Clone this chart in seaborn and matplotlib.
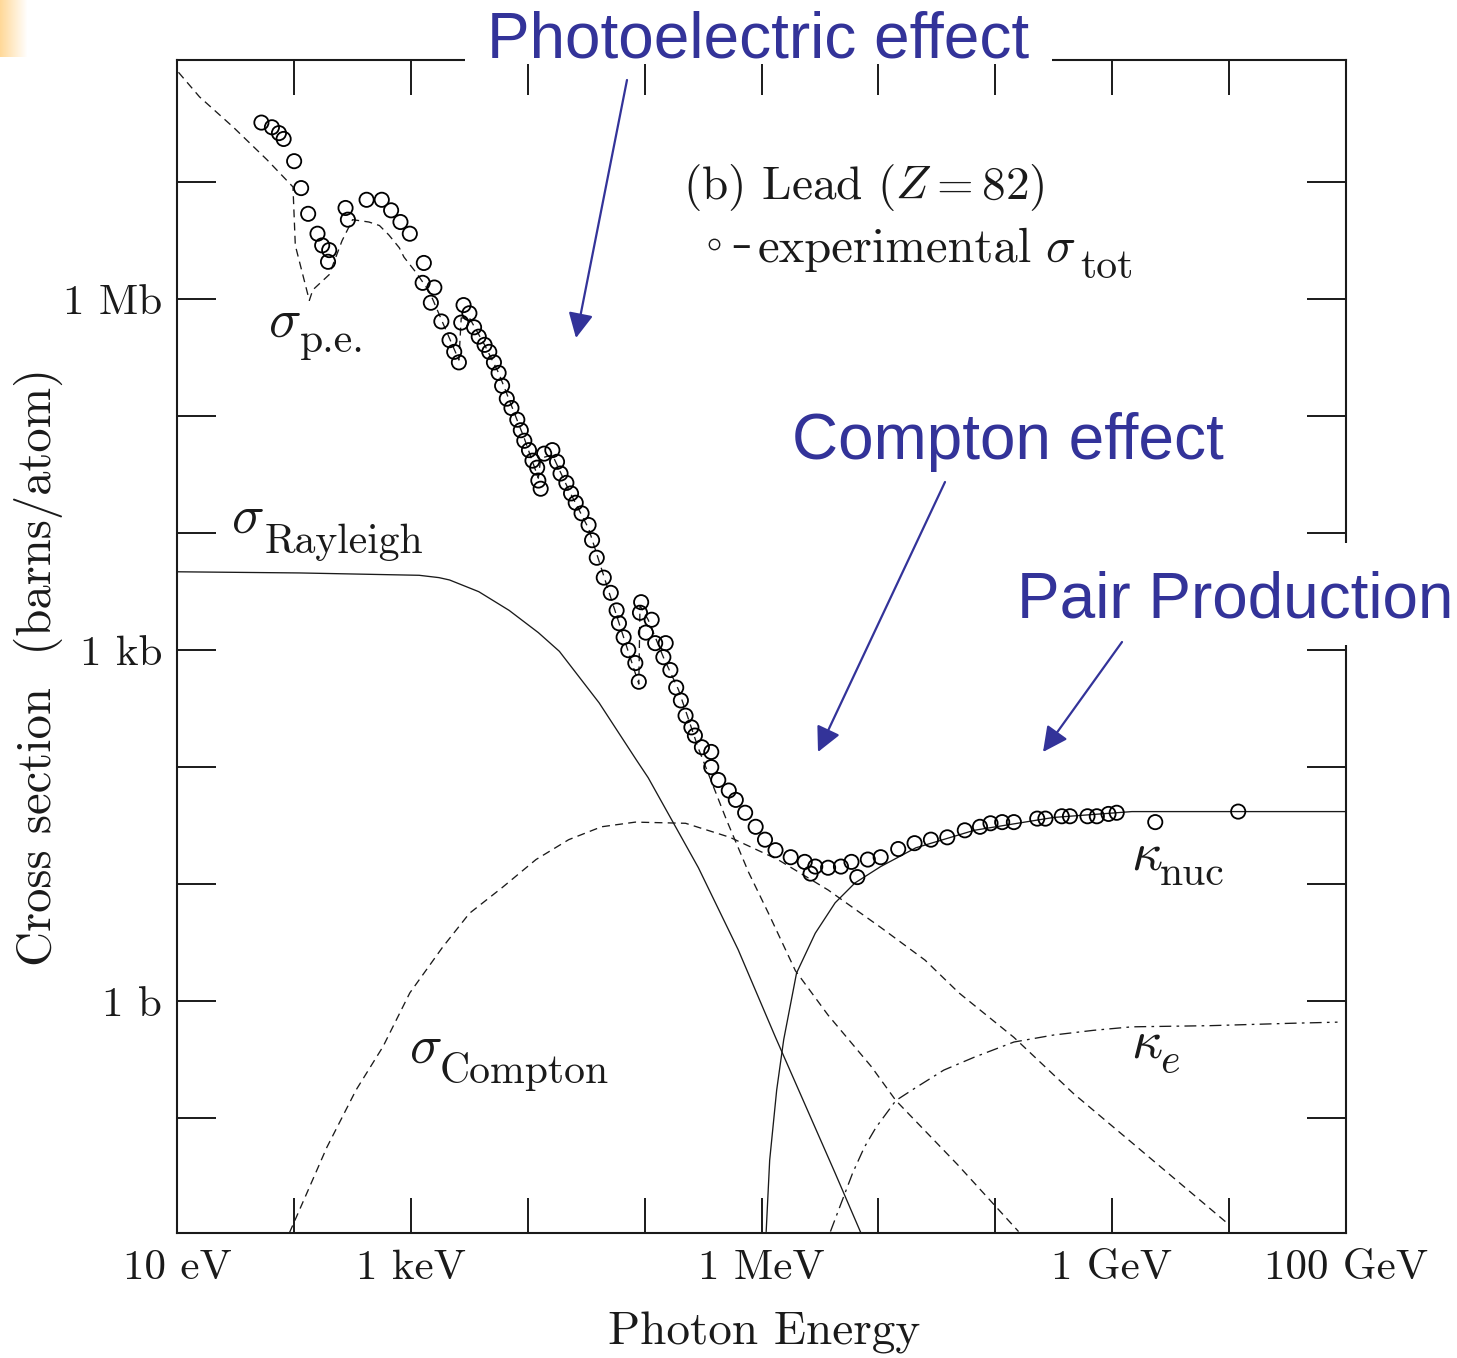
import numpy as np
import pandas as pd
import matplotlib
matplotlib.use("Agg")
import matplotlib.pyplot as plt
from matplotlib.patches import Rectangle, FancyArrowPatch
from matplotlib.lines import Line2D
from matplotlib.ticker import FixedLocator, FixedFormatter, NullLocator
import seaborn as sns

# ------------------------------------------------------------------
# Photon cross sections of lead.
# Each point: (log10 photon energy [eV], log10 cross section [barn/atom])
# ------------------------------------------------------------------
rayleigh_pts = [(1.00, 3.67), (2.05, 3.66), (3.07, 3.64), (3.24, 3.62), (3.33, 3.60),
                (3.58, 3.50), (3.84, 3.34), (4.09, 3.15), (4.27, 2.99), (4.61, 2.55),
                (4.93, 2.06), (5.03, 1.91), (5.46, 1.14), (5.80, 0.44), (6.12, -0.31),
                (6.63, -1.47), (6.85, -1.98)]

compton_pts = [(1.96, -1.98), (2.07, -1.73), (2.28, -1.25), (2.53, -0.76), (2.76, -0.39),
               (2.99, 0.07), (3.27, 0.46), (3.50, 0.75), (3.78, 0.97), (4.07, 1.21),
               (4.35, 1.38), (4.63, 1.49), (4.92, 1.53), (5.35, 1.52), (5.73, 1.40),
               (6.14, 1.21), (6.57, 0.95), (7.02, 0.63), (7.40, 0.35), (7.69, 0.07),
               (8.16, -0.31), (8.67, -0.79), (9.17, -1.21), (9.68, -1.64), (10.00, -1.91)]

photoelectric_pts = [(1.01, 7.94), (1.19, 7.73), (1.48, 7.47), (1.77, 7.19), (1.99, 6.96),
                     (2.01, 6.46), (2.13, 5.99), (2.16, 6.08), (2.30, 6.21), (2.41, 6.50),
                     (2.50, 6.68), (2.64, 6.66), (2.73, 6.63), (2.81, 6.55), (2.90, 6.44),
                     (2.94, 6.36), (3.05, 6.22), (3.16, 6.06), (3.28, 5.78), (3.41, 5.48),
                     (3.43, 5.84), (3.50, 5.84), (3.63, 5.61), (3.75, 5.37), (3.86, 5.09),
                     (3.97, 4.81), (4.09, 4.47), (4.11, 4.64), (4.21, 4.67), (4.35, 4.37),
                     (4.52, 4.04), (4.69, 3.51), (4.82, 3.11), (4.95, 2.71), (4.96, 3.38),
                     (5.03, 3.26), (5.16, 2.94), (5.29, 2.66), (5.46, 2.16), (5.70, 1.55),
                     (5.89, 1.10), (6.06, 0.75), (6.29, 0.26), (6.57, -0.12), (6.94, -0.56),
                     (7.15, -0.85), (7.68, -1.40), (8.20, -1.97)]

kappa_nuc_pts = [(6.04, -1.97), (6.07, -1.36), (6.13, -0.76), (6.19, -0.33), (6.30, 0.24),
                 (6.46, 0.58), (6.63, 0.84), (6.80, 1.01), (7.02, 1.15), (7.32, 1.31),
                 (7.82, 1.46), (8.50, 1.57), (9.17, 1.62), (10.15, 1.62), (11.00, 1.62)]

kappa_e_pts = [(6.59, -1.97), (6.70, -1.68), (6.78, -1.47), (6.88, -1.25), (6.98, -1.08),
               (7.15, -0.85), (7.32, -0.74), (7.56, -0.59), (7.82, -0.48), (8.16, -0.35),
               (8.50, -0.29), (8.84, -0.25), (9.17, -0.22), (9.84, -0.21), (10.52, -0.19),
               (10.93, -0.18)]

experimental_pts = [
    (1.72, 7.51), (1.81, 7.47), (1.87, 7.42), (1.91, 7.37), (2.00, 7.18), (2.06, 6.95),
    (2.12, 6.73), (2.20, 6.56), (2.24, 6.46), (2.30, 6.42), (2.29, 6.32), (2.44, 6.78),
    (2.46, 6.68), (2.62, 6.85), (2.75, 6.85), (2.83, 6.76), (2.91, 6.66), (2.99, 6.56),
    (3.11, 6.31), (3.10, 6.14), (3.20, 6.10), (3.17, 5.97), (3.26, 5.81), (3.33, 5.65),
    (3.37, 5.55), (3.41, 5.46), (3.45, 5.95), (3.43, 5.80), (3.50, 5.88), (3.54, 5.76),
    (3.58, 5.68), (3.63, 5.61), (3.67, 5.55), (3.71, 5.46), (3.75, 5.37), (3.78, 5.26),
    (3.82, 5.15), (3.86, 5.07), (3.91, 4.97), (3.94, 4.88), (3.97, 4.79), (4.01, 4.71),
    (4.04, 4.62), (4.08, 4.56), (4.09, 4.45), (4.11, 4.38), (4.14, 4.68), (4.21, 4.71),
    (4.25, 4.61), (4.28, 4.51), (4.33, 4.43), (4.37, 4.34), (4.41, 4.26), (4.46, 4.17),
    (4.52, 4.07), (4.55, 3.94), (4.59, 3.79), (4.65, 3.62), (4.71, 3.49), (4.76, 3.34),
    (4.78, 3.23), (4.82, 3.11), (4.86, 3.00), (4.92, 2.89), (4.95, 2.73), (4.97, 3.41),
    (4.96, 3.32), (5.01, 3.15), (5.06, 3.26), (5.09, 3.06), (5.18, 3.06), (5.16, 2.94),
    (5.22, 2.83), (5.27, 2.68), (5.31, 2.57), (5.35, 2.44), (5.40, 2.34), (5.43, 2.27),
    (5.49, 2.17), (5.57, 2.13), (5.57, 2.00), (5.63, 1.89), (5.72, 1.80), (5.78, 1.72),
    (5.86, 1.61), (5.95, 1.49), (6.03, 1.38), (6.12, 1.29), (6.25, 1.23), (6.37, 1.19),
    (6.42, 1.09), (6.46, 1.15), (6.57, 1.14), (6.68, 1.15), (6.77, 1.19), (6.82, 1.06),
    (6.91, 1.21), (7.02, 1.23), (7.17, 1.30), (7.31, 1.35), (7.45, 1.38), (7.59, 1.40),
    (7.74, 1.46), (7.87, 1.49), (7.96, 1.52), (8.06, 1.53), (8.16, 1.53), (8.36, 1.56),
    (8.43, 1.56), (8.57, 1.58), (8.64, 1.58), (8.79, 1.58), (8.87, 1.58), (8.97, 1.60),
    (9.04, 1.61), (9.37, 1.53), (10.08, 1.62)]

x_tick_exponents = list(range(1, 12))
x_tick_labels = ["10 eV", "", "1 keV", "", "", "1 MeV", "", "", "1 GeV", "", "100 GeV"]
y_tick_exponents = list(range(-2, 8))
y_tick_labels = ["10 mb", "", "1 b", "", "", "1 kb", "", "", "1 Mb", ""]


def to_frame(points):
    e, s = zip(*points)
    return pd.DataFrame({"energy": 10.0 ** np.array(e), "sigma": 10.0 ** np.array(s)})


# ------------------------------------------------------------------
sns.set_theme(style="white")
plt.rcParams["font.family"] = ["cmr10", "DejaVu Serif"]
plt.rcParams["mathtext.fontset"] = "cm"
plt.rcParams["axes.formatter.use_mathtext"] = True
plt.rcParams["axes.unicode_minus"] = False

W, H = 1457, 1358
fig = plt.figure(figsize=(W / 100, H / 100), dpi=100, facecolor="white")
ax = fig.add_axes([177.3 / W, 1 - 1233.3 / H, (1345.7 - 177.3) / W, (1233.3 - 60) / H])
ax.set_facecolor("white")
ax.set_xscale("log")
ax.set_yscale("log")
ax.set_xlim(10.0, 1e11)
ax.set_ylim(10 ** -1.985, 10 ** 8.045)

INK = "#1a1a1a"
LW = 0.95


def curve(points, ls="-"):
    sns.lineplot(data=to_frame(points), x="energy", y="sigma", ax=ax, estimator=None,
                 sort=False, color=INK, lw=LW, zorder=2)
    ax.lines[-1].set_linestyle(ls)


curve(rayleigh_pts, "-")
curve(compton_pts, (0, (6, 4)))
curve(photoelectric_pts, (0, (6, 4)))
curve(kappa_nuc_pts, "-")
curve(kappa_e_pts, (0, (9, 4, 2, 4)))

sns.scatterplot(data=to_frame(experimental_pts), x="energy", y="sigma", ax=ax,
                marker="o", s=105, facecolor="none", edgecolor="black",
                linewidth=1.3, zorder=3)

# axes frame and ticks
for sp in ax.spines.values():
    sp.set_color(INK)
    sp.set_linewidth(1.5)
ax.xaxis.set_major_locator(FixedLocator([10.0 ** k for k in x_tick_exponents]))
ax.xaxis.set_major_formatter(FixedFormatter(x_tick_labels))
ax.yaxis.set_major_locator(FixedLocator([10.0 ** k for k in y_tick_exponents]))
ax.yaxis.set_major_formatter(FixedFormatter(y_tick_labels))
ax.xaxis.set_minor_locator(NullLocator())
ax.yaxis.set_minor_locator(NullLocator())
ax.tick_params(axis="both", which="major", direction="in", bottom=True, left=True,
               top=True, right=True, width=1.4, color=INK, labelcolor=INK, labelsize=31)
ax.tick_params(axis="x", length=25, pad=12)
ax.tick_params(axis="y", length=28, pad=11)

ax.set_xlabel("Photon Energy", fontsize=34, color=INK)
ax.xaxis.set_label_coords((764 - 177.3) / (1345.7 - 177.3), -(1345 - 1233.3) / (1233.3 - 60))
ax.xaxis.label.set_va("baseline")
ax.set_ylabel("Cross section  (barns/atom)", fontsize=35, color=INK)
ax.yaxis.set_label_coords((38 - 177.3) / (1345.7 - 177.3), (1233.3 - 667) / (1233.3 - 60))
ax.yaxis.label.set_va("center")


# ------------------------------------------------------------------
# text placed by figure pixel position (x from left, y from top)
def put(x, y, s, size, **kw):
    kw.setdefault("color", INK)
    kw.setdefault("va", "baseline")
    kw.setdefault("ha", "left")
    return fig.text(x / W, 1 - y / H, s, fontsize=size, zorder=6, **kw)


# curve labels
put(268, 337, r"$\sigma$", 39)
put(300, 352, "p.e.", 30)
put(231, 533, r"$\sigma$", 39)
put(265, 553, "Rayleigh", 30)
put(409, 1063, r"$\sigma$", 39)
put(440, 1083, "Compton", 30)
put(1131, 870, r"$\kappa$", 39)
put(1160, 885, "nuc", 30)
put(1131, 1058, r"$\kappa$", 39)
put(1160, 1073, r"$e$", 30)

# key
put(683, 199, r"(b) Lead ($Z = 82$)", 34)
fig.add_artist(Line2D([714 / W], [1 - 244 / H], marker="o", ms=7.5, mfc="none",
                      mec=INK, mew=1.0, transform=fig.transFigure, zorder=6))
put(731, 257, "\u2013", 28, family="DejaVu Serif")
put(758, 262, "experimental", 35)
put(1045, 262, r"$\sigma$", 36)
put(1080, 278, "tot", 30)

# ------------------------------------------------------------------
# process annotations
BLUE = "#333399"
fig.add_artist(Rectangle((465 / W, 1 - 64 / H), (1052 - 465) / W, 28 / H,
                         transform=fig.transFigure, facecolor="white", edgecolor="none",
                         zorder=5))
fig.add_artist(Rectangle((1000 / W, 1 - 645 / H), (W - 1000) / W, (645 - 543) / H,
                         transform=fig.transFigure, facecolor="white", edgecolor="none",
                         zorder=5))
put(487, 58, "Photoelectric effect", 46, color=BLUE, family="Liberation Sans")
put(792, 459, "Compton effect", 46, color=BLUE, family="Liberation Sans")
put(1017, 618, "Pair Production", 46, color=BLUE, family="Liberation Sans")

arrow_kw = dict(arrowstyle="-|>", color=BLUE, lw=1.6, mutation_scale=38,
                shrinkA=0, shrinkB=0)
for (x0, y0), (x1, y1) in [((627, 80), (576, 338)),
                           ((945, 482), (818, 752)),
                           ((1122, 642), (1043, 752))]:
    fig.add_artist(FancyArrowPatch((x0 / W, 1 - y0 / H), (x1 / W, 1 - y1 / H),
                                   transform=fig.transFigure, zorder=6, **arrow_kw))

# small warm corner accent
grad = np.linspace(0, 1, 28)
corner = np.ones((57, 28, 3))
corner[:, :, 0] = 1.0
corner[:, :, 1] = 0.85 + 0.15 * grad
corner[:, :, 2] = 0.60 + 0.40 * grad
fig.figimage(corner, xo=0, yo=H - 57, origin="upper", zorder=1)

fig.savefig("out.png", dpi=100, facecolor="white")
